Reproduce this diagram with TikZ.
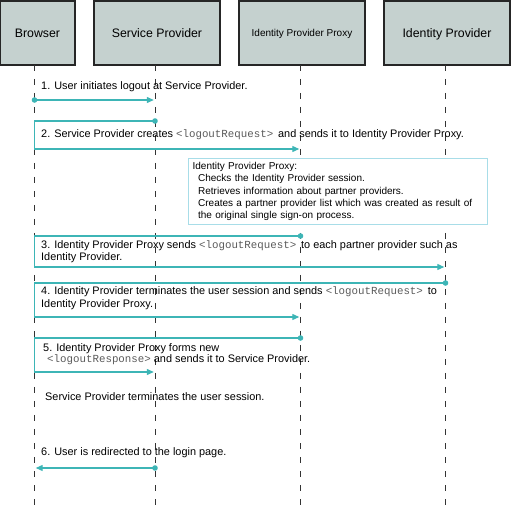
\documentclass[tikz,border=0pt]{standalone}
\usepackage{fontspec}
\setmainfont{Liberation Sans}
\newfontfamily\codefont{Liberation Mono}
\usetikzlibrary{arrows.meta}

\definecolor{msgteal}{HTML}{3DB5B6}
\definecolor{notecyan}{HTML}{A8DDE8}
\definecolor{actorfill}{HTML}{C5D1CF}
\definecolor{codegray}{HTML}{5A5A5A}
\newcommand{\msgcode}[1]{{\codefont\fontsize{10.8}{12}\selectfont\color{codegray}#1}}

\begin{document}
\begin{tikzpicture}[x=1pt, y=-1pt, >={Triangle[length=7pt,width=6pt]}]
        % Define styles
        \tikzstyle{actor}=[draw=black!85, line width=1.1pt, fill=actorfill, minimum height=64pt, inner sep=0pt, text depth=0pt]
        \tikzstyle{lifeline}=[draw=black!80, line width=1pt, dash pattern=on 6pt off 8pt]
        \tikzstyle{msg}=[draw=msgteal, line width=1.2pt, shorten >=1.2pt]
        \tikzstyle{dot}=[fill=msgteal]
        \tikzstyle{msglabel}=[anchor=base west, inner sep=0pt, align=left, font=\fontsize{10.9}{12.5}\selectfont]
        \tikzstyle{note}=[draw=notecyan, line width=1.3pt, fill=white, anchor=north west, inner xsep=4pt, inner ysep=0pt, text width=291pt, minimum height=66pt, align=left, font=\fontsize{10}{12.3}\selectfont]

        \useasboundingbox (0,0) rectangle (512,505);

        % Actor boxes
        \foreach \m/\x/\w/\s/\l in {browser/37.5/75/12.3/Browser, sp/157/126/12.3/Service Provider, proxy/302/126/10/Identity Provider Proxy, idp/447/126/12.3/Identity Provider}
            \node[actor, minimum width=\w pt, font=\fontsize{\s}{14}\selectfont] (\m) at (\x,33) {\l};

        % Lifelines
        \foreach \m/\x in {browser/34.5, sp/155, proxy/300.5, idp/445.5} {
            \coordinate (\m-top) at (\x,65);
            \coordinate (\m-bot) at (\x,505);
            \draw[lifeline] (\m-top) -- (\m-bot);
        }

        % Message 1
        \coordinate (m1-a) at (browser-top |- 0,100);
        \coordinate (m1-b) at (sp-top |- 0,100);
        \draw[msg, ->] (m1-a) -- (m1-b);
        \fill[dot] (m1-a) circle (2.8pt);

        % Messages 2 to 5, going back to the browser line first
        \foreach \n/\from/\to/\ya/\yb in {2/sp/proxy/121/149, 3/proxy/idp/236/267, 4/idp/proxy/283/317, 5/proxy/sp/338/372} {
            \coordinate (m\n-a) at (\from-top |- 0,\ya);
            \coordinate (m\n-b) at (browser-top |- 0,\ya);
            \coordinate (m\n-c) at (\to-top |- 0,\yb);
            \draw[msg, ->] (m\n-a) -- (m\n-b) |- (m\n-c);
            \fill[dot] (m\n-a) circle (2.8pt);
        }

        % Message 6
        \coordinate (m6-a) at (sp-top |- 0,468);
        \coordinate (m6-b) at (browser-top |- 0,468);
        \draw[msg, ->] (m6-a) -- (m6-b);
        \fill[dot] (m6-a) circle (2.8pt);

        % Note of the proxy
        \node[note] (note) at (188,158) {Identity Provider Proxy:\\
            \hspace*{5.5pt}Checks the Identity Provider session.\\
            \hspace*{5.5pt}Retrieves information about partner providers.\\
            \hspace*{5.5pt}Creates a partner provider list which was created as result of\\
            \hspace*{5.5pt}the original single sign-on process.};

        % Message labels (multi-line ones sit on their last line)
        \node[msglabel] (m1-text) at (41,90) {1. User initiates logout at Service Provider.};
        \node[msglabel] (m2-text) at (41,137.5) {2. Service Provider creates \msgcode{<logoutRequest>}\, and sends it to Identity Provider Proxy.};
        \node[msglabel, font=\fontsize{10.9}{12.3}\selectfont] (m3-text) at (41,260.6) {3. Identity Provider Proxy sends \msgcode{<logoutRequest>}\, to each partner provider such as\\Identity Provider.};
        \node[msglabel, font=\fontsize{10.9}{13}\selectfont] (m4-text) at (41,307.3) {4. Identity Provider terminates the user session and sends \msgcode{<logoutRequest>}\, to\\Identity Provider Proxy.};
        \node[msglabel, font=\fontsize{10.9}{11}\selectfont] (m5-text) at (43,362.7) {5. Identity Provider Proxy forms new\\\hspace*{4pt}\msgcode{<logoutResponse>} and sends it to Service Provider.};
        \node[msglabel] (sp-text) at (45,400) {Service Provider terminates the user session.};
        \node[msglabel] (m6-text) at (41,455) {6. User is redirected to the login page.};
    \end{tikzpicture}
\end{document}
